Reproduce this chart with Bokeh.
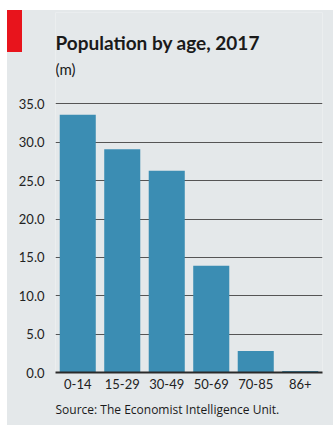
from bokeh.plotting import figure
from bokeh.models import FactorRange, Range1d, FixedTicker, Title, Label, InlineStyleSheet
from bokeh.embed import file_html
from bokeh.resources import INLINE

categories = ["0-14", "15-29", "30-49", "50-69", "70-85", "86+"]
population = [33.6, 29.1, 26.3, 13.9, 2.8, 0.2]
y_ticks = [0, 5, 10, 15, 20, 25, 30, 35]
y_tick_labels = {t: f"{t:.1f}" for t in y_ticks}

title_text = "Population by age, 2017"
unit_text = "(m)"
source_text = "Source: The Economist Intelligence Unit."

BG = "#e4e8ea"
BAR = "#3b8db3"
FONT = "Lato"
INK = "#1a1a1a"

# layout geometry (canvas pixels): axis 0 at y=374, 35 at y=104; frame top at y=12
Y0_PX, Y35_PX, FRAME_TOP = 374, 104, 12
y_end = 35 + (Y35_PX - FRAME_TOP) * 35 / (Y0_PX - Y35_PX)

p = figure(
    width=333, height=425,
    x_range=FactorRange(*categories, range_padding=0),
    y_range=Range1d(0, y_end),
    output_backend="svg", toolbar_location=None,
    min_border_left=55, min_border_right=11,
    min_border_top=FRAME_TOP, min_border_bottom=425 - Y0_PX,
    background_fill_color=BG, border_fill_color=BG,
    outline_line_color=None,
)
p.title.visible = False

p.vbar(x=categories, top=population, width=0.81, color=BAR, line_color=None)

p.yaxis.ticker = FixedTicker(ticks=y_ticks)
p.yaxis.major_label_overrides = y_tick_labels
p.yaxis.axis_line_color = None
p.yaxis.major_tick_line_color = None
p.yaxis.minor_tick_line_color = None
p.yaxis.major_label_standoff = 5
p.yaxis.major_label_text_font = FONT
p.yaxis.major_label_text_font_size = "13px"
p.yaxis.major_label_text_color = "#222222"

p.xaxis.axis_line_color = "#2a2a2a"
p.xaxis.axis_line_width = 2
p.xaxis.major_tick_line_color = None
p.xaxis.minor_tick_line_color = None
p.xaxis.major_label_standoff = 0
p.xaxis.major_label_text_font = FONT
p.xaxis.major_label_text_font_size = "13px"
p.xaxis.major_label_text_color = "#222222"

p.xgrid.grid_line_color = None
p.ygrid.grid_line_color = "#555555"
p.ygrid.grid_line_width = 1
p.ygrid.level = "underlay"

# title texts inside the (extended) frame; screen units are frame-relative (from bottom-left)
p.add_layout(Label(x=0, y=Y0_PX - 44, x_units="screen", y_units="screen", text=title_text,
                   text_font=FONT, text_font_size="19px", text_font_style="bold",
                   text_color=INK, text_baseline="alphabetic"))
p.add_layout(Label(x=0, y=Y0_PX - 70, x_units="screen", y_units="screen", text=unit_text,
                   text_font=FONT, text_font_size="15px",
                   text_color=INK, text_baseline="alphabetic"))

p.add_layout(Title(text=source_text, align="left", offset=0, standoff=15,
                   text_font="Open Sans", text_font_size="12px", text_font_style="normal",
                   text_color=INK), "below")

css = """
:host { position: relative; }
:host::before {
  content: ""; position: absolute; left: 0; top: 0; width: 100%; height: 100%;
  box-sizing: border-box; border-top: 10px solid #ffffff; border-left: 7px solid #ffffff;
  pointer-events: none; z-index: 100;
}
:host::after {
  content: ""; position: absolute; left: 7px; top: 10px; width: 15px; height: 42px;
  background: #e8141c; pointer-events: none; z-index: 101;
}
"""
p.stylesheets = [InlineStyleSheet(css=css)]

open("out.html", "w").write(file_html(p, INLINE))
